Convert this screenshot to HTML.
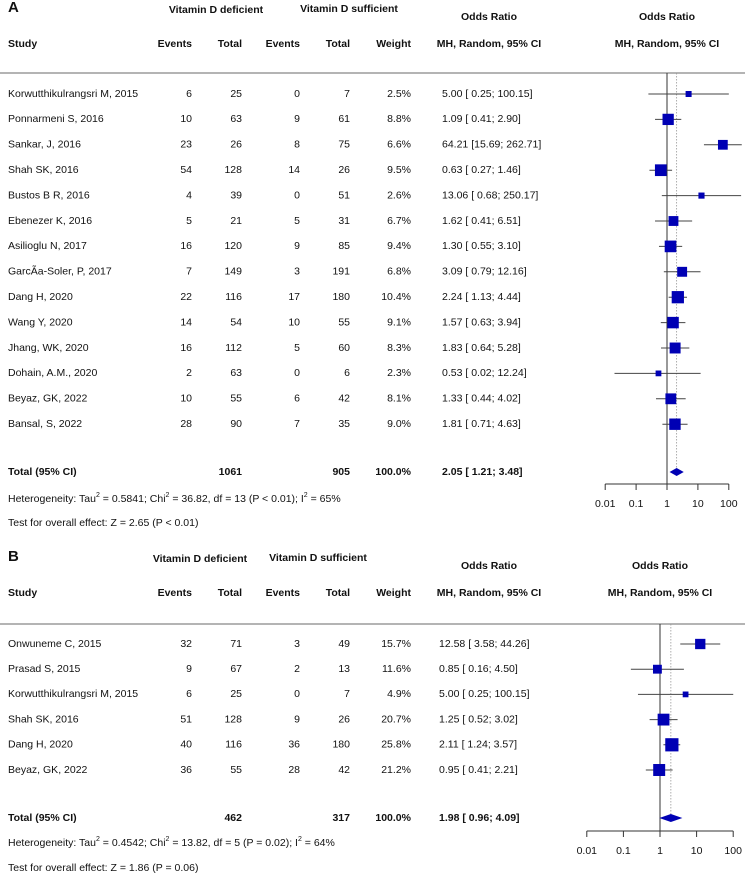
<!DOCTYPE html>
<html><head><meta charset="utf-8">
<style>
html,body{margin:0;padding:0;background:#fff;}
svg{display:block;font-family:"Liberation Sans",Arial,sans-serif;}
text{font-size:10.5px;fill:#111;}
.b{font-weight:bold;}
</style></head>
<body>
<svg id="chart" width="745" height="876" viewBox="0 0 745 876"></svg>
<script>
// Panel A data
const studiesA = ["Korwutthikulrangsri M, 2015","Ponnarmeni S, 2016","Sankar, J, 2016","Shah SK, 2016","Bustos B R, 2016","Ebenezer K, 2016","Asilioglu N, 2017","GarcÃ­a-Soler, P, 2017","Dang H, 2020","Wang Y, 2020","Jhang, WK, 2020","Dohain, A.M., 2020","Beyaz, GK, 2022","Bansal, S, 2022"];
const evDefA = [6,10,23,54,4,5,16,7,22,14,16,2,10,28];
const totDefA = [25,63,26,128,39,21,120,149,116,54,112,63,55,90];
const evSufA = [0,9,8,14,0,5,9,3,17,10,5,0,6,7];
const totSufA = [7,61,75,26,51,31,85,191,180,55,60,6,42,35];
const weightA = [2.5,8.8,6.6,9.5,2.6,6.7,9.4,6.8,10.4,9.1,8.3,2.3,8.1,9.0];
const orA = [5.00,1.09,64.21,0.63,13.06,1.62,1.30,3.09,2.24,1.57,1.83,0.53,1.33,1.81];
const loA = [0.25,0.41,15.69,0.27,0.68,0.41,0.55,0.79,1.13,0.63,0.64,0.02,0.44,0.71];
const hiA = [100.15,2.90,262.71,1.46,250.17,6.51,3.10,12.16,4.44,3.94,5.28,12.24,4.02,4.63];
const totalA = [2.05,1.21,3.48];
const totalsA = ["1061","905","100.0%"];
// Panel B data
const studiesB = ["Onwuneme C, 2015","Prasad S, 2015","Korwutthikulrangsri M, 2015","Shah SK, 2016","Dang H, 2020","Beyaz, GK, 2022"];
const evDefB = [32,9,6,51,40,36];
const totDefB = [71,67,25,128,116,55];
const evSufB = [3,2,0,9,36,28];
const totSufB = [49,13,7,26,180,42];
const weightB = [15.7,11.6,4.9,20.7,25.8,21.2];
const orB = [12.58,0.85,5.00,1.25,2.11,0.95];
const loB = [3.58,0.16,0.25,0.52,1.24,0.41];
const hiB = [44.26,4.50,100.15,3.02,3.57,2.21];
const totalB = [1.98,0.96,4.09];
const totalsB = ["462","317","100.0%"];
const ticks = [0.01,0.1,1,10,100];
const tickLabels = ["0.01","0.1","1","10","100"];

const NS="http://www.w3.org/2000/svg";
const svg=document.getElementById('chart');
function el(tag,attrs,parent){const e=document.createElementNS(NS,tag);for(const k in attrs)e.setAttribute(k,attrs[k]);(parent||svg).appendChild(e);return e;}
function txt(s,x,y,anchor,bold,name,parent){const t=el('text',{x:x,y:y,'text-anchor':anchor||'start','dominant-baseline':'middle'},parent);if(bold)t.setAttribute('class','b');t.textContent=s;


return t;}
function fmt(v){return v.toFixed(2);}
function ciText(o,l,h){const lo=fmt(l),hi=fmt(h);return fmt(o)+" ["+(lo.length<5?" ":"")+lo+"; "+(hi.length<6?" ".repeat(6-hi.length):"")+hi+"]";}

function panel(cfg){
  const g=el('g',{});
  
  
  const xs=v=>cfg.x1+Math.log10(v)*cfg.dec;
  const clip=v=>Math.max(cfg.xmin,Math.min(cfg.xmax,v));
  txt(cfg.key.toUpperCase(),8,cfg.y0,'start',true,'panel-label',g).setAttribute('style','font-size:15px');
  txt("Vitamin D deficient",cfg.defC,cfg.y0+2,'middle',true,'group-header-deficient',g);
  txt("Vitamin D sufficient",cfg.sufC,cfg.y0+1,'middle',true,'group-header-sufficient',g);
  txt("Odds Ratio",489,cfg.y0+9,'middle',true,'odds-ratio-header',g);
  txt("Odds Ratio",cfg.x1,cfg.y0+9,'middle',true,'forest-odds-ratio-header',g);
  const hy=cfg.y0+36;
  txt("Study",8,hy,'start',true,'study-header',g);
  txt("Events",192,hy,'end',true,'events-deficient-header',g);
  txt("Total",242,hy,'end',true,'total-deficient-header',g);
  txt("Events",300,hy,'end',true,'events-sufficient-header',g);
  txt("Total",350,hy,'end',true,'total-sufficient-header',g);
  txt("Weight",411,hy,'end',true,'weight-header',g);
  txt("MH, Random, 95% CI",489,hy,'middle',true,'mh-ci-header',g);
  txt("MH, Random, 95% CI",cfg.x1,hy,'middle',true,'forest-mh-ci-header',g);
  const hl=el('line',{x1:0,x2:745,y1:cfg.line,y2:cfg.line,stroke:'#888','stroke-width':1.2},g);
  
  
  // reference lines
  const vl=el('line',{x1:cfg.x1,x2:cfg.x1,y1:cfg.line,y2:cfg.axisY,stroke:'#333','stroke-width':1},g);
  
  
  const dl=el('line',{x1:xs(cfg.total[0]),x2:xs(cfg.total[0]),y1:cfg.line,y2:cfg.totY,stroke:'#999','stroke-width':0.8,'stroke-dasharray':'1.5,1.5'},g);
  
  
  cfg.studies.forEach((s,i)=>{
    const y=cfg.r0+i*cfg.pitch;
    txt(s,8,y,'start',false,'study-name',g);
    txt(String(cfg.evD[i]),192,y,'end',false,'events-deficient',g);
    txt(String(cfg.totD[i]),242,y,'end',false,'total-deficient',g);
    txt(String(cfg.evS[i]),300,y,'end',false,'events-sufficient',g);
    txt(String(cfg.totS[i]),350,y,'end',false,'total-sufficient',g);
    txt(cfg.w[i].toFixed(1)+"%",411,y,'end',false,'weight',g);
    const ct=txt(ciText(cfg.or[i],cfg.lo[i],cfg.hi[i]),cfg.ciX,y,'start',false,'odds-ratio-ci',g);
    ct.setAttribute('xml:space','preserve');
    const w=el('line',{x1:clip(xs(cfg.lo[i])),x2:clip(xs(cfg.hi[i])),y1:y,y2:y,stroke:'#444','stroke-width':1},g);
    
    
    const sz=cfg.sq*Math.sqrt(cfg.w[i]);
    const r=el('rect',{x:xs(cfg.or[i])-sz/2,y:y-sz/2,width:sz,height:sz,fill:'#0000b4'},g);
    
    
  });
  const ty=cfg.totY;
  txt("Total (95% CI)",8,ty,'start',true,'total-label',g);
  txt(cfg.totals[0],242,ty,'end',true,'total-deficient-sum',g);
  txt(cfg.totals[1],350,ty,'end',true,'total-sufficient-sum',g);
  txt(cfg.totals[2],411,ty,'end',true,'total-weight',g);
  const tt=txt(ciText(cfg.total[0],cfg.total[1],cfg.total[2]),cfg.ciX,ty,'start',true,'total-odds-ratio-ci',g);
  tt.setAttribute('xml:space','preserve');
  const d=el('polygon',{points:`${xs(cfg.total[1])},${ty} ${xs(cfg.total[0])},${ty-4} ${xs(cfg.total[2])},${ty} ${xs(cfg.total[0])},${ty+4}`,fill:'#0000b4'},g);
  
  
  // axis
  const ax=el('line',{x1:xs(ticks[0]),x2:xs(ticks[ticks.length-1]),y1:cfg.axisY,y2:cfg.axisY,stroke:'#333','stroke-width':1},g);
  
  
  ticks.forEach((t,i)=>{
    const tk=el('line',{x1:xs(t),x2:xs(t),y1:cfg.axisY,y2:cfg.axisY+6,stroke:'#333','stroke-width':1},g);
    
    
    txt(tickLabels[i],xs(t),cfg.axisY+20,'middle',false,'x-tick-label',g);
  });
  const h=el('text',{x:8,y:cfg.hetY,'dominant-baseline':'middle'},g);
  
  
  h.innerHTML=cfg.het;
  txt(cfg.test,8,cfg.testY,'start',false,'overall-effect-test',g);
}
panel({key:'a',y0:8,defC:216,sufC:349,line:73,r0:94,pitch:25.4,studies:studiesA,evD:evDefA,totD:totDefA,evS:evSufA,totS:totSufA,w:weightA,or:orA,lo:loA,hi:hiA,total:totalA,totals:totalsA,totY:472,axisY:484,hetY:499,testY:523,x1:667,dec:30.9,xmin:598,xmax:742,sq:3.8,ciX:442,
 het:'Heterogeneity: Tau<tspan dy="-4" font-size="7">2</tspan><tspan dy="4"> = 0.5841; Chi</tspan><tspan dy="-4" font-size="7">2</tspan><tspan dy="4"> = 36.82, df = 13 (P &lt; 0.01); I</tspan><tspan dy="-4" font-size="7">2</tspan><tspan dy="4"> = 65%</tspan>',
 test:'Test for overall effect: Z = 2.65 (P < 0.01)'});
panel({key:'b',y0:557,defC:200,sufC:318,line:624,r0:644,pitch:25.2,studies:studiesB,evD:evDefB,totD:totDefB,evS:evSufB,totS:totSufB,w:weightB,or:orB,lo:loB,hi:hiB,total:totalB,totals:totalsB,totY:818,axisY:831,hetY:843,testY:868,x1:660,dec:36.6,xmin:585,xmax:737,sq:2.6,ciX:439,
 het:'Heterogeneity: Tau<tspan dy="-4" font-size="7">2</tspan><tspan dy="4"> = 0.4542; Chi</tspan><tspan dy="-4" font-size="7">2</tspan><tspan dy="4"> = 13.82, df = 5 (P = 0.02); I</tspan><tspan dy="-4" font-size="7">2</tspan><tspan dy="4"> = 64%</tspan>',
 test:'Test for overall effect: Z = 1.86 (P = 0.06)'});
</script>
</body></html>
